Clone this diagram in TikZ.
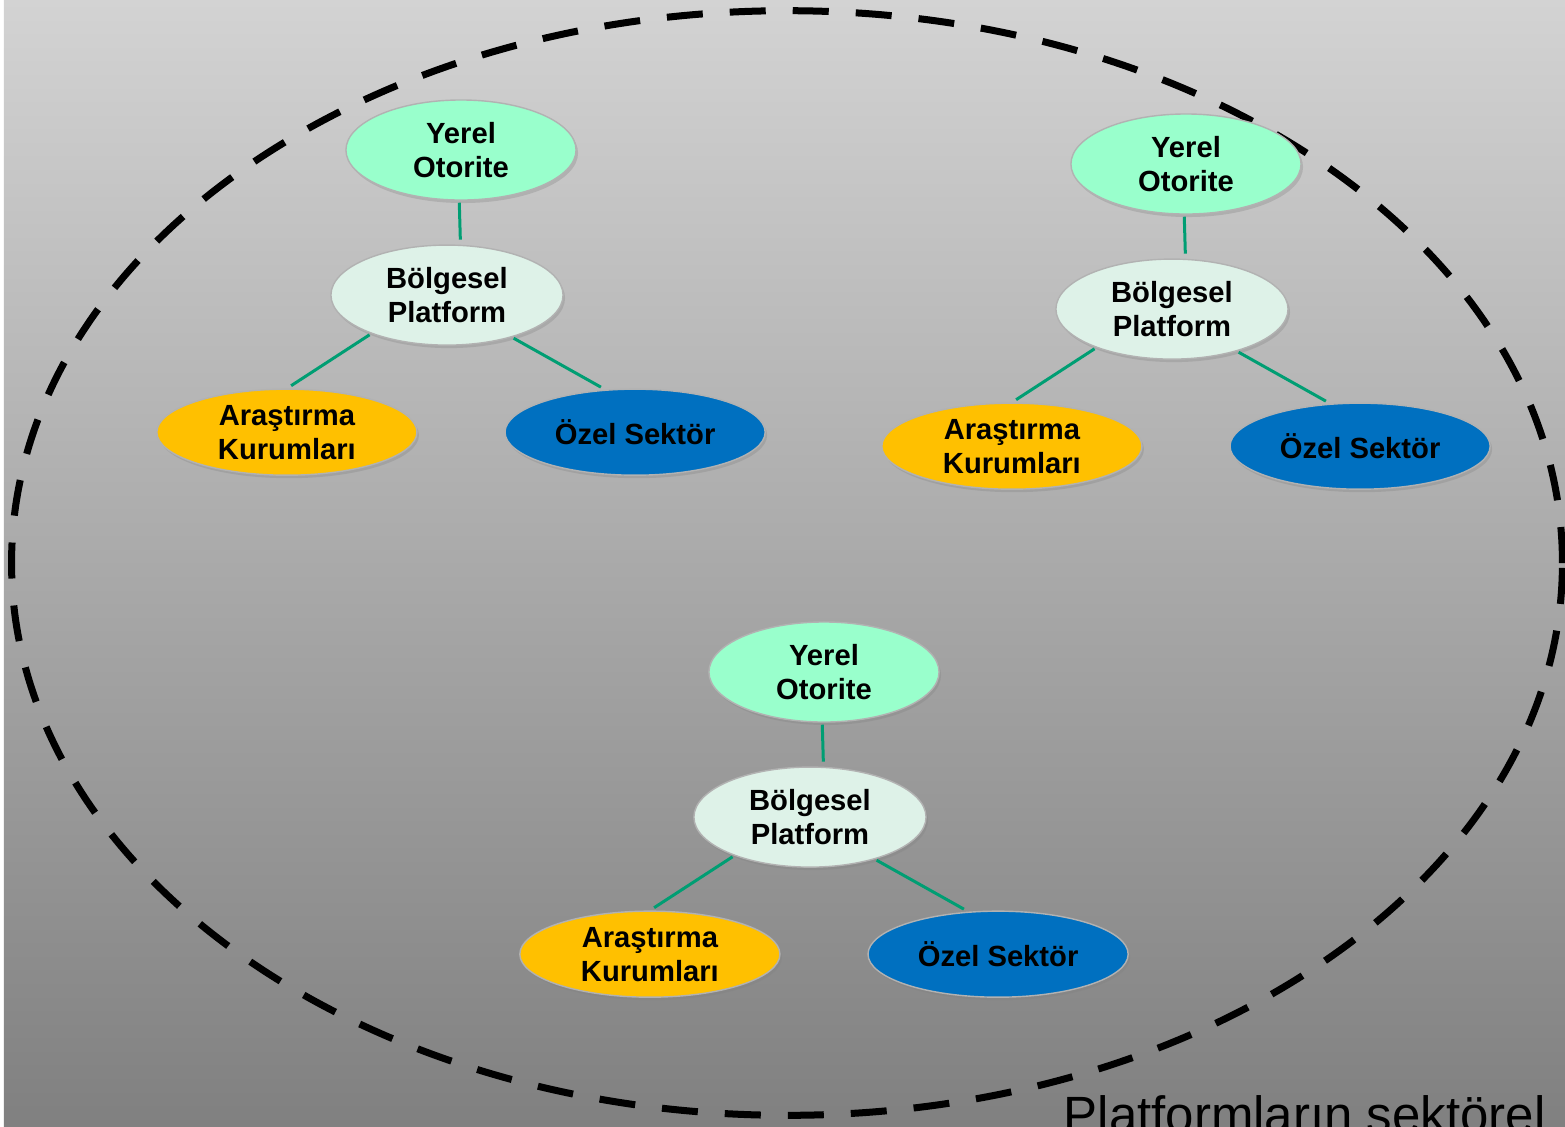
\documentclass[tikz,border=0pt]{standalone}
\usepackage{fontspec}
\setmainfont{Liberation Sans}
\usepackage{xcolor}
\usepackage{tikz}
\usetikzlibrary{shapes,shadows}
\definecolor{bgtop}{RGB}{211,211,211}
\definecolor{bgbot}{RGB}{128,128,128}
\definecolor{mint}{RGB}{153,255,204}
\definecolor{palemint}{RGB}{222,242,232}
\definecolor{amber}{RGB}{255,192,0}
\definecolor{deepblue}{RGB}{0,112,192}
\definecolor{linkgreen}{RGB}{0,158,115}
\newcommand{\boxfont}{\fontsize{8.3}{9.7}\selectfont\bfseries}
\tikzstyle{bubble} = [ellipse, draw=gray!60, thin, inner sep=0pt, align=center,
    font=\boxfont, drop shadow={shadow xshift=0.02cm, shadow yshift=-0.03cm, opacity=0.3}]
\tikzstyle{yerel} = [bubble, fill=mint, minimum width=2.3cm, minimum height=1cm]
\tikzstyle{platform} = [bubble, fill=palemint, minimum width=2.32cm, minimum height=1cm]
\tikzstyle{arastirma} = [bubble, fill=amber, minimum width=2.6cm, minimum height=0.86cm]
\tikzstyle{ozel} = [bubble, fill=deepblue, minimum width=2.6cm, minimum height=0.86cm]
\tikzstyle{link} = [draw, linkgreen, line width=0.03cm, shorten <=0.02cm, shorten >=0.05cm]
\tikzstyle{border} = [draw, black, line width=0.07cm, dash pattern=on 0.36cm off 0.27cm]

\begin{document}
\begin{tikzpicture}[x=0.01cm, y=-0.01cm]
    \useasboundingbox (0,0) rectangle (1565,1126);
    \clip (0,0) rectangle (1565,1126);
    % Background
    \fill [white] (0,0) rectangle (4,1126);
    \shade [top color=bgtop, bottom color=bgbot] (4,0) rectangle (1565,1126);
    \draw [border] (787,563) ellipse [x radius=7.75cm, y radius=5.52cm];
    % Place nodes
    \node [yerel] (yer1) at (461,150) {Yerel\\Otorite};
    \node [platform, below of=yer1, node distance=1.45cm, xshift=-0.14cm] (plat1) {Bölgesel\\Platform};
    \node [arastirma, below of=plat1, node distance=1.37cm, xshift=-1.6cm] (ara1) {Araştırma\\Kurumları};
    \node [ozel, below of=plat1, node distance=1.37cm, xshift=1.88cm] (ozel1) {Özel Sektör};

    \node [yerel] (yer2) at (1186,164) {Yerel\\Otorite};
    \node [platform, below of=yer2, node distance=1.45cm, xshift=-0.14cm] (plat2) {Bölgesel\\Platform};
    \node [arastirma, below of=plat2, node distance=1.37cm, xshift=-1.6cm] (ara2) {Araştırma\\Kurumları};
    \node [ozel, below of=plat2, node distance=1.37cm, xshift=1.88cm] (ozel2) {Özel Sektör};

    \node [yerel] (yer3) at (824,672) {Yerel\\Otorite};
    \node [platform, below of=yer3, node distance=1.45cm, xshift=-0.14cm] (plat3) {Bölgesel\\Platform};
    \node [arastirma, below of=plat3, node distance=1.37cm, xshift=-1.6cm] (ara3) {Araştırma\\Kurumları};
    \node [ozel, below of=plat3, node distance=1.37cm, xshift=1.88cm] (ozel3) {Özel Sektör};

    \node [anchor=base west, inner sep=0pt, font=\fontsize{14.5}{17}\selectfont] (caption) at (1063,1132) {Platformların sektörel};
    % Draw edges
    \path [link] (yer1.268)  -- (plat1.75);
    \path [link] (plat1.207) -- (ara1.north);
    \path [link] (plat1.327) -- (ozel1.125);
    \path [link] (yer2.268)  -- (plat2.75);
    \path [link] (plat2.207) -- (ara2.north);
    \path [link] (plat2.327) -- (ozel2.125);
    \path [link] (yer3.268)  -- (plat3.75);
    \path [link] (plat3.207) -- (ara3.north);
    \path [link] (plat3.327) -- (ozel3.125);
\end{tikzpicture}
\end{document}
